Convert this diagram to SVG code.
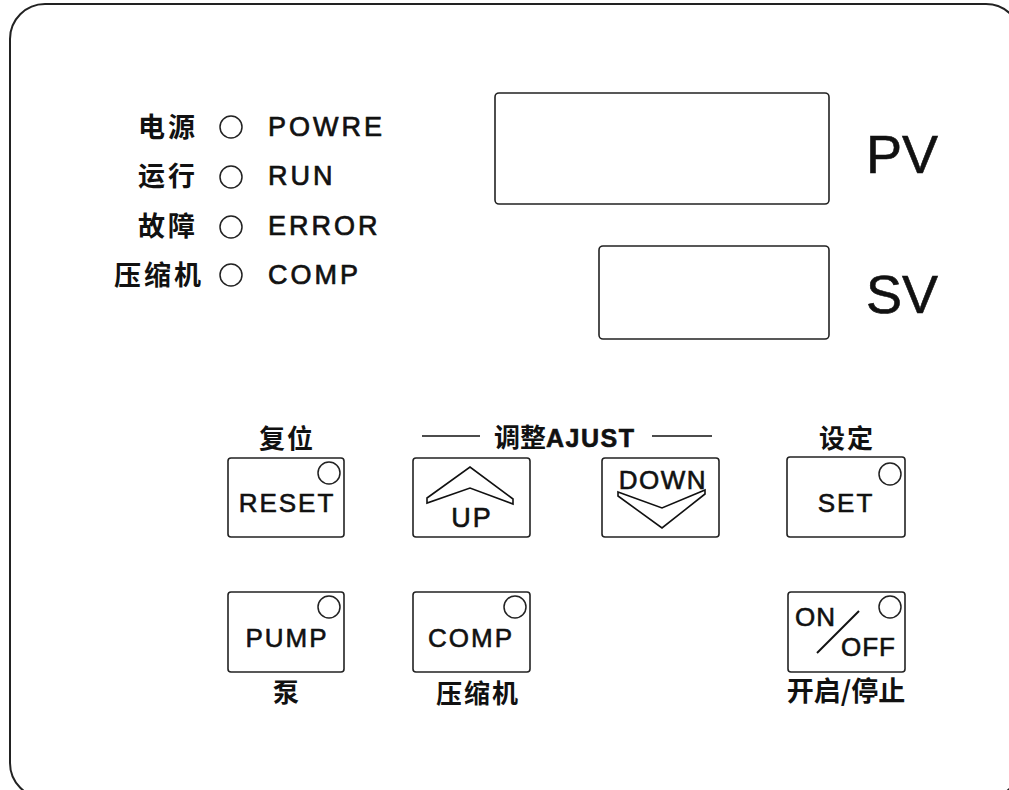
<svg xmlns="http://www.w3.org/2000/svg" width="1009" height="790" viewBox="0 0 1009 790">
<style>
.frame{fill:none;stroke:#222;stroke-width:2}
.box{fill:#fff;stroke:#222;stroke-width:1.6}
.led{fill:#fff;stroke:#222;stroke-width:1.5}
.en{font-family:"Liberation Sans","Noto Sans CJK SC",Arial,sans-serif;fill:#111;stroke:#111;stroke-width:0.7;font-size:27px;letter-spacing:3px}
.cn{font-family:"Noto Sans CJK SC","Liberation Sans",sans-serif;fill:#111;font-size:26px;font-weight:bold}
.big{font-family:"Liberation Sans",Arial,sans-serif;fill:#111;stroke:#111;stroke-width:0.6;font-size:54px}
.btn{font-family:"Liberation Sans",Arial,sans-serif;fill:#111;stroke:#111;stroke-width:0.6;font-size:26px;letter-spacing:2px}
.ln{stroke:#111;stroke-width:1.6;fill:none}
</style>
<rect class="frame" x="10" y="4" width="1011" height="794" rx="35" ry="35"/>

<g id="indicators">
  <text class="cn" x="138" y="137" style="font-size:27px;letter-spacing:3px">电源</text>
  <circle class="led" cx="231" cy="127" r="11"/>
  <text class="en" x="268" y="136">POWRE</text>
  <text class="cn" x="138" y="186" style="font-size:27px;letter-spacing:3px">运行</text>
  <circle class="led" cx="231" cy="177" r="11"/>
  <text class="en" x="268" y="185">RUN</text>
  <text class="cn" x="138" y="236" style="font-size:27px;letter-spacing:3px">故障</text>
  <circle class="led" cx="231" cy="227" r="11"/>
  <text class="en" x="268" y="235">ERROR</text>
  <text class="cn" x="114" y="285" style="font-size:27px;letter-spacing:3px">压缩机</text>
  <circle class="led" cx="231" cy="275" r="11"/>
  <text class="en" x="268" y="284">COMP</text>
</g>

<g id="pv-display">
  <rect class="box" x="495" y="93" width="334" height="111" rx="4"/>
  <text class="big" x="866" y="173">PV</text>
</g>
<g id="sv-display">
  <rect class="box" x="599" y="246" width="230" height="93" rx="4"/>
  <text class="big" x="866" y="313">SV</text>
</g>

<g id="reset-btn">
  <text class="cn" x="287" y="448" text-anchor="middle" style="letter-spacing:2px">复位</text>
  <rect class="box" x="228" y="458" width="116" height="79" rx="3"/>
  <circle class="led" cx="329" cy="473" r="11"/>
  <text class="btn" x="287" y="512" text-anchor="middle">RESET</text>
</g>

<g id="adjust-header">
  <line class="ln" x1="422" y1="436" x2="480" y2="436"/>
  <text class="cn" x="494" y="447">调整<tspan font-family="Liberation Sans, Arial, sans-serif" font-size="25" letter-spacing="1.5" stroke="#111" stroke-width="0.6">AJUST</tspan></text>
  <line class="ln" x1="652" y1="436" x2="712" y2="436"/>
</g>

<g id="up-btn">
  <rect class="box" x="413" y="458" width="117" height="79" rx="3"/>
  <polygon class="ln" points="427,498 470,467 513,499 513,504 470,488 427,503"/>
  <text class="btn" x="472" y="527" text-anchor="middle" style="font-size:27px">UP</text>
</g>

<g id="down-btn">
  <rect class="box" x="602" y="458" width="117" height="79" rx="3"/>
  <text class="btn" x="663" y="489" text-anchor="middle" style="font-size:26px;letter-spacing:1.5px">DOWN</text>
  <polygon class="ln" points="618,492 662,508 705,490 705,494 662,528 618,496"/>
</g>

<g id="set-btn">
  <text class="cn" x="847" y="448" text-anchor="middle" style="letter-spacing:2px">设定</text>
  <rect class="box" x="787" y="457" width="118" height="80" rx="3"/>
  <circle class="led" cx="890" cy="474" r="11"/>
  <text class="btn" x="846" y="512" text-anchor="middle">SET</text>
</g>

<g id="pump-btn">
  <rect class="box" x="228" y="592" width="116" height="80" rx="3"/>
  <circle class="led" cx="329" cy="607" r="11"/>
  <text class="btn" x="287" y="647" text-anchor="middle">PUMP</text>
  <text class="cn" x="286" y="702" text-anchor="middle">泵</text>
</g>

<g id="comp-btn">
  <rect class="box" x="413" y="592" width="117" height="80" rx="3"/>
  <circle class="led" cx="515" cy="607" r="11"/>
  <text class="btn" x="471" y="647" text-anchor="middle">COMP</text>
  <text class="cn" x="478" y="703" text-anchor="middle" style="letter-spacing:2px">压缩机</text>
</g>

<g id="onoff-btn">
  <rect class="box" x="788" y="592" width="117" height="80" rx="3"/>
  <circle class="led" cx="890" cy="607" r="11"/>
  <text class="btn" x="795" y="626" style="letter-spacing:1px">ON</text>
  <line class="ln" x1="817" y1="653" x2="859" y2="611" style="stroke-width:2"/>
  <text class="btn" x="841" y="656" style="letter-spacing:1px">OFF</text>
  <text class="cn" x="846" y="701" text-anchor="middle" style="font-size:27px">开启/停止</text>
</g>
</svg>
